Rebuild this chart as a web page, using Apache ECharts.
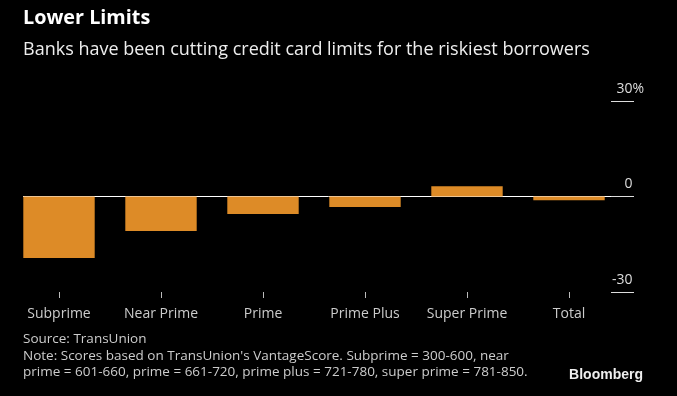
<!DOCTYPE html>
<html><head><meta charset="utf-8">
<script src="https://cdn.jsdelivr.net/npm/echarts@6/dist/echarts.min.js"></script>
<style>html,body{margin:0;padding:0;background:#000;}#c{width:677px;height:396px;}</style>
</head><body><div id="c"></div>
<script>
const categories = ['Subprime', 'Near Prime', 'Prime', 'Prime Plus', 'Super Prime', 'Total'];
const limitChange = [-19.3, -10.8, -5.5, -3.3, 3.2, -1.2];
const yTicks = [-30, 0, 30];
const titleText = 'Lower Limits';
const subtitleText = 'Banks have been cutting credit card limits for the riskiest borrowers';
const sourceText = "Source: TransUnion\nNote: Scores based on TransUnion's VantageScore. Subprime = 300-600, near\nprime = 601-660, prime = 661-720, prime plus = 721-780, super prime = 781-850.";

const FONT = '"Open Sans", Roboto, sans-serif';
const chart = echarts.init(document.getElementById('c'), null, {renderer: 'canvas'});
chart.setOption({
  backgroundColor: '#000',
  animation: false,
  textStyle: {fontFamily: FONT},
  title: [
    {text: titleText, left: 23, top: 8, padding: 0, textStyle: {color: '#fff', fontSize: 19.8, fontWeight: 'bold', fontFamily: FONT}},
    {text: subtitleText, left: 23, top: 41, padding: 0, textStyle: {color: '#eee', fontSize: 18, fontWeight: 'normal', fontFamily: FONT}},
    {text: sourceText, left: 23, top: 331, padding: 0, textStyle: {color: '#ccc', fontSize: 13.5, fontWeight: 'normal', lineHeight: 16.5, fontFamily: FONT}},
    {text: 'Bloomberg', right: 34, top: 368, padding: 0, textStyle: {color: '#eee', fontSize: 14, fontWeight: 'bold', fontFamily: '"Liberation Sans", Arial, sans-serif'}}
  ],
  grid: [
    {left: 8, right: 57, top: 101, bottom: 104},
    {left: 23, right: 43, top: 101, bottom: 104}
  ],
  xAxis: [
    {type: 'category', gridIndex: 0, data: categories,
     axisLine: {show: false, onZero: false},
     axisTick: {show: true, interval: 0, alignWithLabel: true, length: 6, lineStyle: {color: '#bbb'}},
     axisLabel: {interval: 0, color: '#ccc', fontSize: 14, margin: 15, fontFamily: FONT}},
    {type: 'value', gridIndex: 1, show: false, min: 0, max: 1}
  ],
  yAxis: [
    {type: 'value', gridIndex: 0, min: yTicks[0], max: yTicks[2], interval: 30, show: false},
    {type: 'value', gridIndex: 1, position: 'right', min: yTicks[0], max: yTicks[2], interval: 30,
     axisLine: {show: false, onZero: false},
     axisTick: {show: true, inside: true, length: 23, lineStyle: {color: '#ddd'}},
     splitLine: {show: true, lineStyle: {color: ['rgba(0,0,0,0)', '#fff', 'rgba(0,0,0,0)'], width: 1}},
     axisLabel: {inside: true, margin: -10, color: '#ddd', fontSize: 14, verticalAlign: 'bottom', padding: [0, 0, 5, 0],
       fontFamily: FONT,
       formatter: v => v === yTicks[2] ? v + '%' : v + '{s|%}',
       rich: {s: {color: 'rgba(0,0,0,0)', fontSize: 14, fontFamily: FONT}}}}
  ],
  series: [
    {type: 'bar', xAxisIndex: 0, yAxisIndex: 0, data: limitChange, barWidth: '70%', z: 5,
     itemStyle: {color: '#dd8b27'}}
  ]
});
</script></body></html>
